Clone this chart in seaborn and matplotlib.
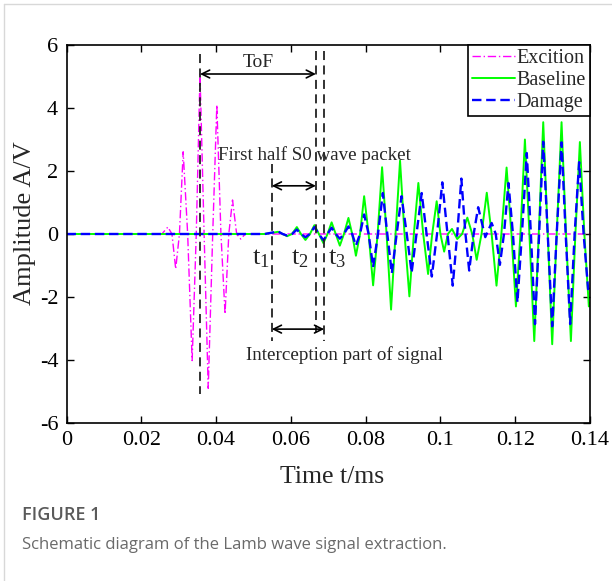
import matplotlib
matplotlib.use("Agg")
import matplotlib.pyplot as plt
import seaborn as sns
from matplotlib.lines import Line2D

# Excitation tone burst: peaks and zero crossings (t in ms, amplitude in V)
exc_t = [0.0, 0.0255, 0.0271, 0.0282, 0.0292, 0.0302, 0.0312, 0.0324, 0.0336, 0.0347,
         0.0357, 0.0368, 0.0379, 0.0391, 0.0402, 0.0413, 0.0424, 0.0434, 0.0444, 0.0455,
         0.0466, 0.0478, 0.14]
exc_a = [0.0, 0.0, 0.22, 0.0, -1.11, 0.0, 2.61, 0.0, -4.02, 0.0,
         5.08, 0.0, -4.90, 0.0, 4.10, 0.0, -2.54, 0.0, 1.08, 0.0,
         -0.16, 0.0, 0.0]

# Baseline (healthy) response
base_t = [0.0, 0.0530, 0.0566, 0.0578, 0.0590, 0.0603, 0.0616, 0.0627, 0.0639, 0.0651,
          0.0663, 0.0675, 0.0687, 0.0698, 0.0709, 0.0720, 0.0731, 0.0742, 0.0754, 0.0764,
          0.0774, 0.0785, 0.0796, 0.0808, 0.0820, 0.0832, 0.0844, 0.0856, 0.0868, 0.0880,
          0.0892, 0.0904, 0.0917, 0.0929, 0.0941, 0.0954, 0.0967, 0.0978, 0.0990, 0.1000,
          0.1010, 0.1020, 0.1031, 0.1038, 0.1045, 0.1058, 0.1072, 0.1085, 0.1097, 0.1110,
          0.1124, 0.1137, 0.1150, 0.1163, 0.1177, 0.1190, 0.1202, 0.1214, 0.1226, 0.1238,
          0.1251, 0.1263, 0.1275, 0.1287, 0.1299, 0.1311, 0.1324, 0.1336, 0.1349, 0.1361,
          0.1373, 0.1385, 0.1397, 0.1400]
base_a = [0.0, 0.0, 0.07, 0.0, -0.07, 0.0, 0.22, 0.0, -0.19, 0.0,
          0.28, 0.0, -0.29, 0.0, 0.37, 0.0, -0.37, 0.0, 0.51, 0.0,
          -0.69, 0.0, 1.20, 0.0, -1.63, 0.0, 2.12, 0.0, -2.40, 0.0,
          2.33, 0.0, -1.98, 0.0, 1.62, 0.0, -1.27, 0.0, 1.04, 0.0,
          -0.56, 0.0, 0.16, 0.0, -0.16, 0.0, 0.52, 0.0, -0.82, 0.0,
          1.31, 0.0, -1.64, 0.0, 2.11, 0.0, -2.30, 0.0, 3.00, 0.0,
          -3.40, 0.0, 3.55, 0.0, -3.50, 0.0, 3.55, 0.0, -3.40, 0.0,
          2.92, 0.0, -2.30, -2.20]

# Damage response
dmg_t = [0.0, 0.0530, 0.0566, 0.0578, 0.0590, 0.0603, 0.0616, 0.0627, 0.0639, 0.0651,
         0.0663, 0.0675, 0.0687, 0.0698, 0.0709, 0.0720, 0.0731, 0.0742, 0.0754, 0.0764,
         0.0774, 0.0785, 0.0796, 0.0808, 0.0820, 0.0833, 0.0846, 0.0858, 0.0870, 0.0883,
         0.0896, 0.0910, 0.0923, 0.0936, 0.0950, 0.0963, 0.0977, 0.0991, 0.1005, 0.1019,
         0.1033, 0.1045, 0.1056, 0.1067, 0.1077, 0.1089, 0.1101, 0.1112, 0.1120, 0.1128,
         0.1137, 0.1148, 0.1159, 0.1170, 0.1182, 0.1194, 0.1206, 0.1218, 0.1231, 0.1242,
         0.1253, 0.1264, 0.1275, 0.1287, 0.1299, 0.1311, 0.1324, 0.1335, 0.1347, 0.1359,
         0.1371, 0.1383, 0.1395, 0.1400]
dmg_a = [0.0, 0.0, 0.08, 0.0, -0.05, 0.0, 0.14, 0.0, -0.10, 0.0,
         0.22, 0.0, -0.20, 0.0, 0.20, 0.0, -0.15, 0.0, 0.24, 0.0,
         -0.37, 0.0, 0.62, 0.0, -1.05, 0.0, 1.30, 0.0, -1.25, 0.0,
         1.20, 0.0, -1.23, 0.0, 1.30, 0.0, -1.35, 0.0, 1.64, 0.0,
         -1.64, 0.0, 1.76, 0.0, -1.16, 0.0, 0.85, 0.30, -0.10, 0.12,
         0.35, 0.0, -0.98, 0.0, 1.62, 0.0, -2.17, 0.0, 2.57, 0.0,
         -2.86, 0.0, 2.93, 0.0, -2.93, 0.0, 2.91, 0.0, -2.86, 0.0,
         2.28, 0.0, -1.75, -1.60]

# marker times (ms)
t_tof = 0.0357
t1, t2, t3 = 0.0549, 0.0667, 0.0689

xticks = [0, 0.02, 0.04, 0.06, 0.08, 0.10, 0.12, 0.14]
xtick_labels = ["0", "0.02", "0.04", "0.06", "0.08", "0.1", "0.12", "0.14"]
yticks = [-6, -4, -2, 0, 2, 4, 6]

sns.set_theme(style="ticks")
plt.rcParams["font.family"] = ["Liberation Serif", "DejaVu Serif"]
plt.rcParams["mathtext.fontset"] = "custom"
plt.rcParams["mathtext.rm"] = "Liberation Serif"
plt.rcParams["mathtext.it"] = "Liberation Serif:italic"
plt.rcParams["axes.unicode_minus"] = False
plt.rcParams["lines.solid_joinstyle"] = "round"
plt.rcParams["lines.dash_joinstyle"] = "round"

fig = plt.figure(figsize=(6.12, 5.81), dpi=100)
ax = fig.add_axes([0.1087, 0.272, 0.8553, 0.6505])

sns.lineplot(x=exc_t, y=exc_a, ax=ax, color="#ff00ff", lw=1.0,
             linestyle=(0, (6, 2, 1, 2)), label="Excition", estimator=None)
sns.lineplot(x=base_t, y=base_a, ax=ax, color="#00ff00", lw=1.4,
             label="Baseline", estimator=None)
sns.lineplot(x=dmg_t, y=dmg_a, ax=ax, color="#0000ff", lw=1.7,
             linestyle=(0, (4, 2)), label="Damage", estimator=None)

# vertical markers
dash = dict(color="#222222", lw=1.3, linestyle=(0, (5, 3)))
ax.plot([t_tof, t_tof], [5.71, -5.08], **dash)
ax.plot([t1, t1], [2.22, -3.39], **dash)
ax.plot([t2, t2], [5.8, -3.1], **dash)
ax.plot([t3, t3], [5.8, -3.4], **dash)

arrow = dict(arrowstyle="<->", color="black", lw=1.2, shrinkA=0, shrinkB=0, mutation_scale=14)
ax.annotate("", xy=(t_tof, 5.08), xytext=(t2, 5.08), arrowprops=arrow)
ax.annotate("", xy=(t1, 1.53), xytext=(t2, 1.53), arrowprops=arrow)
ax.annotate("", xy=(t1, -3.02), xytext=(t3, -3.02), arrowprops=arrow)

ax.text(0.0512, 5.45, "ToF", fontsize=14, ha="center", va="center")
ax.text(0.0405, 2.52, "First half S0 wave packet", fontsize=13.7, ha="left", va="center")
ax.text(0.0742, -3.84, "Interception part of signal", fontsize=13.7, ha="center", va="center")
ax.text(0.0520, -0.78, r"$\mathrm{t}_1$", fontsize=19, ha="center", va="center")
ax.text(0.0624, -0.78, r"$\mathrm{t}_2$", fontsize=19, ha="center", va="center")
ax.text(0.0723, -0.78, r"$\mathrm{t}_3$", fontsize=19, ha="center", va="center")

ax.set_xlim(0, 0.14)
ax.set_ylim(-6, 6)
ax.set_xticks(xticks)
ax.set_xticklabels(xtick_labels)
ax.set_yticks(yticks)
ax.tick_params(direction="in", length=5, width=1, labelsize=16, top=True, right=True,
               colors="black", pad=6)
for s in ax.spines.values():
    s.set_color("black")
    s.set_linewidth(1.2)

ax.set_xlabel("Time t/ms", fontsize=18.5)
ax.set_ylabel("Amplitude A/V", fontsize=19)
ax.xaxis.set_label_coords(0.507, -0.113)
ax.yaxis.set_label_coords(-0.058, 0.53)

leg = ax.legend(loc="upper right", fontsize=14.5, frameon=True, fancybox=False,
                borderaxespad=0, borderpad=0.2, labelspacing=0.15, handlelength=2.1,
                handletextpad=0.1)
leg.get_frame().set_edgecolor("black")
leg.get_frame().set_linewidth(1.2)
leg.get_frame().set_alpha(1)

# caption
fig.text(0.036, 0.1136, "FIGURE 1", fontsize=13, color="#5a5a5a", fontweight="semibold",
         family="Open Sans", va="center")
fig.text(0.036, 0.062, "Schematic diagram of the Lamb wave signal extraction.", fontsize=12,
         color="#6a6a6a", family="Open Sans", va="center")

# light page frame
fig.add_artist(Line2D([0.007, 0.007], [0, 0.993], color="#d8d8d8", lw=1))
fig.add_artist(Line2D([0.007, 1], [0.993, 0.993], color="#d8d8d8", lw=1))

fig.savefig("out.png", dpi=100)
